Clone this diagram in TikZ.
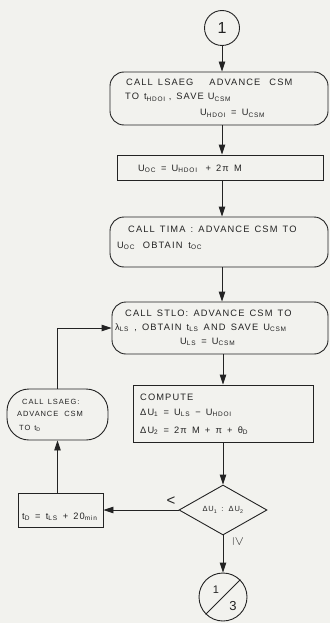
\documentclass[tikz,border=0pt]{standalone}
\usepackage{fontspec}
\setmainfont{Liberation Sans}[LetterSpace=12,WordSpace=1.4]
\usetikzlibrary{arrows.meta,shapes.geometric}
\definecolor{paper}{RGB}{242,242,238}
\definecolor{ink}{RGB}{35,35,35}
\newcommand\sbs[1]{\textsubscript{#1}}
\tikzset{
  line/.style={draw=ink, line width=0.9pt},
  box/.style={line, rectangle, inner sep=0pt},
  rbox/.style={box, rounded corners=14pt},
  txt/.style={anchor=base west, inner sep=0pt, text=ink, font=\fontsize{9.3}{11}\selectfont},
  stxt/.style={txt, font=\fontsize{7.5}{9}\selectfont},
  arr/.style={line, -{Triangle[length=10pt,width=6.5pt]}},
  conn/.style={line, circle, inner sep=0pt, text=ink},
}
\begin{document}
\begin{tikzpicture}[x=1pt,y=-1pt]
\fill[paper] (0,0) rectangle (330,623);
\useasboundingbox (0,0) rectangle (330,623);

% connector 1
\node[conn, minimum size=35pt, font=\fontsize{16}{16}\selectfont] (c1) at (222,28) {1};

% box 1
\node[rbox, minimum width=218pt, minimum height=53pt] (b1) at (219,98.5) {};
\node[txt] (t1a) at (126,86) {CALL LSAEG\hspace{16pt}ADVANCE\hspace{9pt}CSM};
\node[txt] (t1b) at (125,100) {TO\hspace{5pt}t\sbs{HDOI}\hspace{3pt},\hspace{5pt}SAVE\hspace{4pt}U\sbs{CSM}};
\node[txt] (t1c) at (200,116) {U\sbs{HDOI} = U\sbs{CSM}};

% box 2
\node[box, minimum width=206pt, minimum height=25pt] (b2) at (220,167.5) {};
\node[txt] (t2) at (138,171) {U\sbs{OC} = U\sbs{HDOI}\hspace{8pt}+ 2π M};

% box 3
\node[rbox, minimum width=218pt, minimum height=50pt] (b3) at (219,242) {};
\node[txt] (t3a) at (128,232) {CALL TIMA : ADVANCE CSM TO};
\node[txt] (t3b) at (117,248) {U\sbs{OC}\hspace{8pt}OBTAIN\hspace{6pt}t\sbs{OC}};

% box 4
\node[rbox, minimum width=216pt, minimum height=52pt] (b4) at (220,328) {};
\node[txt] (t4a) at (125,316.5) {CALL STLO: ADVANCE CSM TO};
\node[txt] (t4b) at (115,330.5) {λ\sbs{LS} , OBTAIN t\sbs{LS} AND SAVE U\sbs{CSM}};
\node[txt] (t4c) at (180,344.5) {U\sbs{LS} = U\sbs{CSM}};

% box 5
\node[box, minimum width=180pt, minimum height=57pt] (b5) at (223,413.5) {};
\node[txt] (t5a) at (140,400) {COMPUTE};
\node[txt] (t5b) at (140,415.5) {ΔU\sbs{1} = U\sbs{LS} − U\sbs{HDOI}};
\node[txt] (t5c) at (140,433.5) {ΔU\sbs{2} = 2π M + π + θ\sbs{D}};

% box 6
\node[box, rounded corners=22pt, minimum width=101pt, minimum height=51pt] (b6) at (57.5,414.5) {};
\node[stxt] (t6a) at (22,404) {CALL LSAEG:};
\node[stxt] (t6b) at (17,416) {ADVANCE\hspace{6pt}CSM};
\node[stxt] (t6c) at (19,430) {TO\hspace{4pt}t\sbs{D}};

% box 7
\node[box, minimum width=85pt, minimum height=34pt] (b7) at (60.5,510) {};
\node[txt] (t7) at (22,519) {t\sbs{D} = t\sbs{LS} + 20\sbs{min}};

% decision
\node[line, diamond, minimum width=88pt, minimum height=50pt, inner sep=0pt] (d) at (223,510) {};
\node[stxt, anchor=center] (dt) at (d.center) {ΔU\sbs{1} : ΔU\sbs{2}};

% connector 1/3
\node[conn, minimum size=48pt] (c2) at (223,597) {};
\draw[line] (c2.south west) -- (c2.north east);
\node[text=ink, inner sep=0pt, font=\fontsize{11}{11}\selectfont] (c2a) at (216,590) {1};
\node[text=ink, inner sep=0pt, font=\fontsize{13}{13}\selectfont] (c2b) at (233,606) {3};

% arrows
\draw[arr] (c1.south) -- (c1.south |- b1.north);
\draw[arr] (b1.south -| c1) -- (b2.north -| c1);
\draw[arr] (b2.south -| c1) -- (b3.north -| c1);
\draw[arr] (b3.south -| c1) -- (b4.north -| c1);
\draw[arr] (b4.south -| b5) -- (b5.north);
\draw[arr] (b5.south) -- (d.north);
\draw[arr] (d.west) -- (b7.east);
\node[text=ink, inner sep=0pt, font=\fontsize{15}{15}\selectfont] (lt) at (171,501) {<};
\draw[arr] (b7.north -| b6.south) -- (b6.south);
\draw[arr] (b6.north) |- (b4.west);
\draw[arr] (d.south) -- (c2.north);
\node[text=ink, inner sep=0pt, rotate=-90, scale=1.3] (ge) at (238,542) {$\geq$};
\end{tikzpicture}
\end{document}
